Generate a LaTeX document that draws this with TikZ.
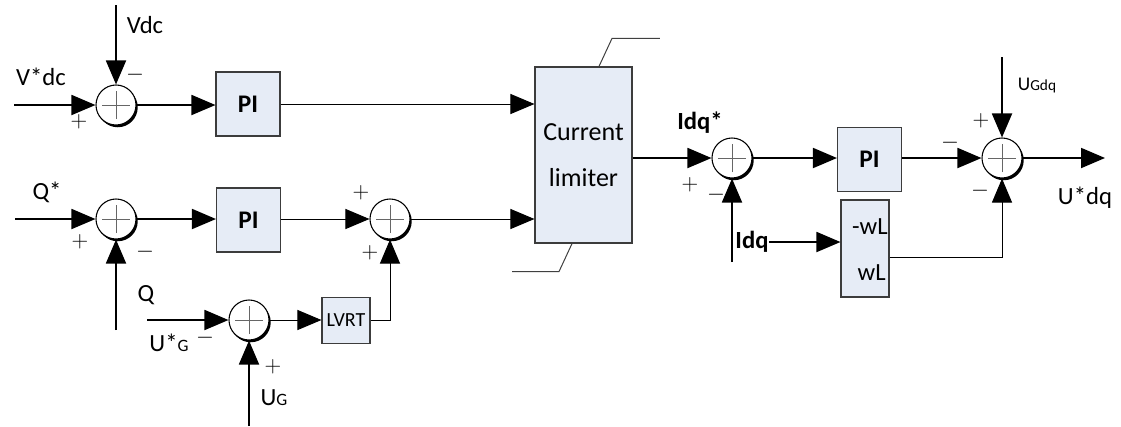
\documentclass[tikz,border=0pt]{standalone}
\usepackage{fontspec}
\setmainfont{Carlito}
\usetikzlibrary{arrows.meta,shadows}

\definecolor{boxfill}{RGB}{230,236,246}
\definecolor{boxedge}{RGB}{60,60,60}

\begin{document}
\begin{tikzpicture}[
  x=0.75pt, y=-0.75pt,
  every node/.style={font=\fontsize{18.5}{22}\selectfont,inner sep=0pt},
  sumnode/.style={circle,draw,fill=white,line width=0.8pt,minimum size=30pt,
    drop shadow={shadow xshift=1.3pt,shadow yshift=-1.7pt,fill=black,opacity=1},
    path picture={\draw[black!60,line width=0.7pt]
      ([xshift=-10.5pt]path picture bounding box.center) -- ([xshift=10.5pt]path picture bounding box.center)
      ([yshift=-10.5pt]path picture bounding box.center) -- ([yshift=10.5pt]path picture bounding box.center);}},
  blockbox/.style={draw=boxedge,fill=boxfill,line width=0.8pt},
  pibox/.style={blockbox,minimum width=48pt,minimum height=48pt,font=\bfseries\fontsize{19}{22}\selectfont},
  sig/.style={line width=1.4pt,-{Triangle[length=18pt,width=15pt]}},
  sigthin/.style={line width=0.75pt,-{Triangle[length=18pt,width=15pt]}},
  limline/.style={line width=0.75pt,black!75}
]
  \useasboundingbox (0,0) rectangle (1121,426);

  % summing junctions
  \node[sumnode] (s1) at (116,105) {};
  \node[sumnode] (s2) at (116,219) {};
  \node[sumnode] (s3) at (390,219) {};
  \node[sumnode] (s6) at (249,320) {};
  \node[sumnode] (s4) at (732,158) {};
  \node[sumnode] (s5) at (1002,158) {};

  % blocks
  \node[pibox] (pi1) at (248,104) {PI};
  \node[pibox] (pi2) at (248.5,220) {PI};
  \node[pibox] (pi3) at (869.5,159.5) {PI};
  \node[blockbox,minimum width=36pt,minimum height=35pt,font=\fontsize{15}{18}\selectfont] (lvrt) at (346,320.5) {LVRT};
  \node[blockbox,minimum width=72.75pt,minimum height=132pt,align=center,font=\fontsize{19.5}{35}\selectfont] (lim) at (583.5,155) {Current\\limiter};
  \node[blockbox,minimum width=36pt,minimum height=72.75pt] (wl) at (865,248.5) {};
  \node[anchor=east] (wlneg) at (888,227) {-wL};
  \node[anchor=east] (wlpos) at (886,273) {wL};

  % limiter saturation marks
  \draw[limline] ([xshift=11.6pt]lim.north) -- ++(13,-28) -- ++(48,0);
  \draw[limline] ([xshift=-8.6pt]lim.south) -- ++(-13,28) -- ++(-47,0);

  % free ends
  \coordinate (vref) at (14,105);
  \coordinate (vdctop) at (116,5);
  \coordinate (qref) at (15,219);
  \coordinate (qbot) at (116,330);
  \coordinate (ugref) at (147,320);
  \coordinate (ugbot) at (249,426);
  \coordinate (idqbot) at (732,262);
  \coordinate (ugdqtop) at (1002,57);
  \coordinate (udqout) at (1105,158);

  % dc voltage loop
  \draw[sig] (vref) -- (s1.west);
  \draw[sig] (vdctop) -- (s1.north);
  \draw[sig] (s1.east) -- (pi1.west |- s1.east);
  \draw[sigthin] (pi1.east) -- (lim.west |- pi1.east);

  % reactive power loop
  \draw[sig] (qref) -- (s2.west);
  \draw[sig] (qbot) -- (s2.south);
  \draw[sig] (s2.east) -- (pi2.west |- s2.east);
  \draw[sigthin] (pi2.east |- s3.west) -- (s3.west);
  \draw[sigthin] (s3.east) -- (lim.west |- s3.east);

  % LVRT branch
  \draw[sig] (ugref) -- (s6.west);
  \draw[sig] (ugbot) -- (s6.south);
  \draw[sigthin] (s6.east) -- (lvrt.west |- s6.east);
  \draw[sigthin] (lvrt.east) -| (s3.south);

  % current loop
  \draw[sig] (lim.east |- s4.west) -- (s4.west);
  \draw[sig] (idqbot) -- (s4.south);
  \draw[sig] (s4.east) -- (pi3.west |- s4.east);
  \draw[sig] (pi3.east |- s5.west) -- (s5.west);
  \draw[sig] (ugdqtop) -- (s5.north);
  \draw[sig] (s5.east) -- (udqout);
  \node[font=\bfseries\fontsize{18.5}{22}\selectfont] (lidq) at (752,242) {Idq};
  \draw[sig] (lidq.east) -- (wl.west |- lidq.east);
  \draw[sigthin] ([yshift=-6.4pt]wl.east) -| (s5.south);

  % labels
  \node (lvdc) at (145,25) {Vdc};
  \node (lvref) at (41,77) {V*dc};
  \node (lqref) at (47,192) {Q*};
  \node (lq) at (146,295) {Q};
  \node (lugref) at (169,343) {U*\fontsize{13}{15}\selectfont G};
  \node (lug) at (274,398) {U\fontsize{13}{15}\selectfont G};
  \node[font=\bfseries\fontsize{18.5}{22}\selectfont] (lidqref) at (700,123) {Idq*};
  \node (lugdq) at (1037,86) {\fontsize{14.5}{16}\selectfont U\fontsize{11.5}{13}\selectfont Gdq};
  \node (ludq) at (1085,198) {U*dq};

  % signs
  \node (ms1) at (135,75) {$-$};
  \node (ps1) at (79,122) {$+$};
  \node (ps2) at (80,242) {$+$};
  \node (ms2) at (145,252) {$-$};
  \node (ps3a) at (361,193) {$+$};
  \node (ps3b) at (370,253) {$+$};
  \node (ms6) at (205,338) {$-$};
  \node (ps6) at (273,367) {$+$};
  \node (ps4) at (690,185) {$+$};
  \node (ms4) at (716,195) {$-$};
  \node (ps5) at (981,121) {$+$};
  \node (ms5a) at (950,143) {$-$};
  \node (ms5b) at (980,191) {$-$};
\end{tikzpicture}
\end{document}
